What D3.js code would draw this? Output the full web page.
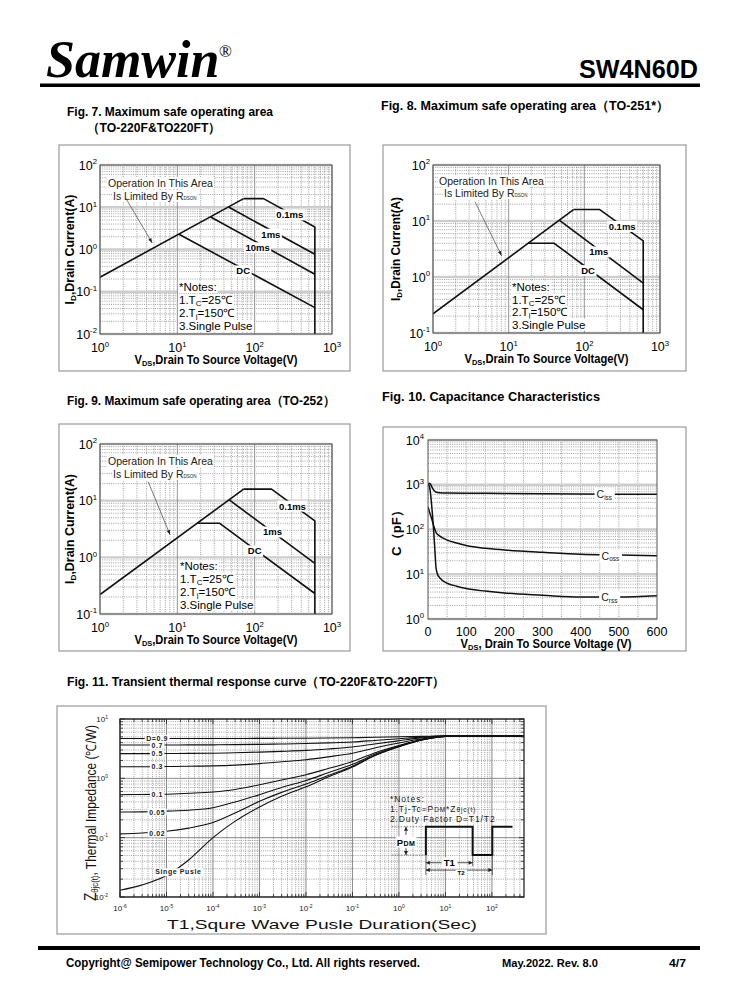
<!DOCTYPE html>
<html><head><meta charset="utf-8">
<script src="https://cdn.jsdelivr.net/npm/d3@7/dist/d3.min.js"></script>
<style>html,body{margin:0;padding:0;background:#fff}svg{display:block}</style>
</head><body>
<svg id="page" width="738" height="1000"></svg>
<script>
// ================= DATA =================
// Fig 7 (TO-220F) safe operating area, [VDS (V), ID (A)]
const fig7Rdson = [[1, 0.22], [72, 16]];
const fig7Ms01 = [[72, 16], [130, 16], [600, 3.4], [600, 0.01]];
const fig7Ms1 = [[46, 10.1], [600, 0.77]];
const fig7Ms10 = [[27, 5.9], [600, 0.26]];
const fig7DC = [[10.5, 2.3], [600, 0.042]];
const fig7Labels = [["0.1ms", 285, 6.6], ["1ms", 162, 2.3], ["10ms", 109, 1.1], ["DC", 71, 0.31]];

// Fig 8 (TO-251)
const fig8Rdson = [[1, 0.22], [72, 16]];
const fig8Ms01 = [[72, 16], [160, 16], [600, 4.4], [600, 0.1]];
const fig8Ms1 = [[47, 10.3], [600, 0.78]];
const fig8DC = [[18, 4], [40, 4], [600, 0.26]];
const fig8Labels = [["0.1ms", 316, 8], ["1ms", 155, 2.8], ["DC", 112, 1.3]];

// Fig 9 (TO-252)
const fig9Rdson = [[1, 0.22], [72, 16]];
const fig9Ms01 = [[72, 16], [165, 16], [600, 4.4], [600, 0.1]];
const fig9Ms1 = [[47, 10.3], [600, 0.78]];
const fig9DC = [[18, 4], [35, 4], [600, 0.23]];
const fig9Labels = [["0.1ms", 308, 8], ["1ms", 170, 2.8], ["DC", 100, 1.3]];

const soaXExp = [0, 1, 2, 3];
const fig7YExp = [-2, -1, 0, 1, 2];
const fig89YExp = [-1, 0, 1, 2];

// Fig 10 capacitance, VDS (V) -> C (pF)
const cissV = [0.5, 3, 6, 10, 15, 20, 30, 50, 100, 200, 300, 400, 500, 600];
const cissC = [980, 1080, 1050, 900, 760, 690, 660, 650, 645, 640, 632, 622, 615, 610];
const cossV = [0, 5, 10, 15, 20, 25, 30, 40, 50, 75, 100, 150, 200, 300, 400, 500, 600];
const cossC = [320, 230, 170, 120, 90, 78, 72, 64, 58, 50, 44, 38, 35, 31, 28, 27, 26];
const crssV = [1, 3, 6, 9, 12, 15, 18, 21, 25, 30, 40, 50, 75, 100, 150, 200, 300, 400, 500, 600];
const crssC = [1000, 950, 700, 400, 200, 90, 35, 14, 10, 8.5, 7, 6.3, 5.4, 4.8, 4.2, 3.8, 3.4, 3.1, 3.1, 3.3];
const capXTicks = [0, 100, 200, 300, 400, 500, 600];
const capYExp = [0, 1, 2, 3, 4];
const capLabels = [["C", "iss", 462, 600], ["C", "oss", 478, 25], ["C", "rss", 475, 3.0]];

// Fig 11 transient thermal impedance, t (s) -> Z (C/W)
const thT = [1e-6, 3e-6, 1e-5, 3e-5, 1e-4, 3e-4, 1e-3, 3e-3, 1e-2, 3e-2, 1e-1, 3e-1, 1, 3, 10, 30, 490];
const thD09 = [4.68, 4.68, 4.68, 4.69, 4.69, 4.7, 4.71, 4.73, 4.75, 4.78, 4.84, 4.92, 5.02, 5.1, 5.19, 5.2, 5.2];
const thD07 = [3.64, 3.64, 3.65, 3.66, 3.67, 3.7, 3.74, 3.79, 3.86, 3.96, 4.1, 4.35, 4.66, 4.95, 5.17, 5.2, 5.2];
const thD05 = [2.61, 2.61, 2.62, 2.63, 2.65, 2.7, 2.77, 2.85, 2.96, 3.13, 3.38, 3.8, 4.3, 4.8, 5.16, 5.2, 5.2];
const thD03 = [1.57, 1.57, 1.58, 1.6, 1.62, 1.67, 1.77, 1.9, 2.06, 2.3, 2.65, 3.25, 3.94, 4.6, 5.14, 5.2, 5.2];
const thD01 = [0.53, 0.535, 0.54, 0.56, 0.59, 0.65, 0.78, 0.94, 1.15, 1.46, 1.92, 2.68, 3.58, 4.48, 5.12, 5.2, 5.2];
const thD005 = [0.27, 0.272, 0.28, 0.29, 0.32, 0.4, 0.53, 0.7, 0.92, 1.24, 1.72, 2.54, 3.5, 4.45, 5.1, 5.2, 5.2];
const thD002 = [0.116, 0.12, 0.128, 0.145, 0.18, 0.26, 0.41, 0.58, 0.8, 1.12, 1.6, 2.45, 3.45, 4.42, 5.1, 5.2, 5.2];
const thSingle = [0.013, 0.016, 0.023, 0.042, 0.1, 0.19, 0.33, 0.5, 0.72, 1.05, 1.55, 2.4, 3.4, 4.4, 5.1, 5.2, 5.2];
const thLabels = ["D=0.9", "0.7", "0.5", "0.3", "0.1", "0.05", "0.02"];
const thXExp = [-6, -5, -4, -3, -2, -1, 0, 1, 2];
const thYExp = [-2, -1, 0, 1];
// pulse diagram (t, Z)
const pulseT = [3.8, 3.8, 38.5, 38.5, 102, 102, 277];
const pulseZ = [0.051, 0.153, 0.153, 0.051, 0.051, 0.153, 0.153];

// ================= DRAWING =================
const svg = d3.select('#page');
const SANS = "'Liberation Sans', Arial, Helvetica, sans-serif";
const SERIF = "'Liberation Serif', 'Times New Roman', serif";
let clipN = 0;

function txt(parent, x, y, parts, o = {}) {
  const t = parent.append('text').attr('x', x).attr('y', y)
    .attr('font-family', o.family || SANS).attr('font-size', o.size || 12)
    .attr('font-weight', o.weight || 'normal').attr('fill', o.fill || '#000');
  if (o.anchor) t.attr('text-anchor', o.anchor);
  if (o.fstyle) t.attr('font-style', o.fstyle);
  if (o.len) t.attr('textLength', o.len).attr('lengthAdjust', 'spacingAndGlyphs');
  if (o.ls) t.attr('letter-spacing', o.ls);
  if (o.rotate) t.attr('transform', `rotate(${o.rotate},${x},${y})`);
  if (typeof parts === 'string') t.text(parts);
  else parts.forEach(p => {
    const s = t.append('tspan').text(p.t);
    if (p.size) s.attr('font-size', p.size);
    if (p.dy) s.attr('dy', p.dy);
    if (p.weight) s.attr('font-weight', p.weight);
  });
  return t;
}
function bg(t, px = 1.5, py = 0.5) {
  const b = t.node().getBBox();
  d3.select(t.node().parentNode).insert('rect', () => t.node())
    .attr('x', b.x - px).attr('y', b.y - py).attr('width', b.width + 2 * px).attr('height', b.height + 2 * py)
    .attr('fill', '#fff');
}
function pow10(exp, size) {
  return [{ t: '10' }, { t: String(exp), size: size * 0.62, dy: -size * 0.42 }];
}
function logVals(dom) {
  const lo = Math.floor(Math.log10(dom[0]) + 1e-9), hi = Math.ceil(Math.log10(dom[1]) - 1e-9);
  const major = [], minor = [];
  for (let e = lo; e <= hi; e++) {
    const b = Math.pow(10, e);
    if (b >= dom[0] * 0.999 && b <= dom[1] * 1.001) major.push(b);
    for (let m = 2; m <= 9; m++) { const v = m * b; if (v > dom[0] && v < dom[1] * 0.999) minor.push(v); }
  }
  return { major, minor };
}
function frame(x0, y0, x1, y1) {
  svg.append('rect').attr('x', x0).attr('y', y0).attr('width', x1 - x0).attr('height', y1 - y0)
    .attr('fill', 'none').attr('stroke', '#9a9a9a').attr('stroke-width', 1.2);
}
function vline(g, xs, y0, y1, stroke, w, dash) {
  g.selectAll(null).data(xs).join('line').attr('x1', d => d).attr('x2', d => d).attr('y1', y0).attr('y2', y1)
    .attr('stroke', stroke).attr('stroke-width', w).attr('stroke-dasharray', dash || null);
}
function hline(g, ys, x0, x1, stroke, w, dash) {
  g.selectAll(null).data(ys).join('line').attr('y1', d => d).attr('y2', d => d).attr('x1', x0).attr('x2', x1)
    .attr('stroke', stroke).attr('stroke-width', w).attr('stroke-dasharray', dash || null);
}

function panel(o) {
  const g = svg.append('g');
  const x = o.xLinear ? d3.scaleLinear().domain(o.xDom).range([o.x0, o.x1])
                      : d3.scaleLog().domain(o.xDom).range([o.x0, o.x1]);
  const y = d3.scaleLog().domain(o.yDom).range([o.y1, o.y0]);
  const yv = logVals(o.yDom);
  const xv = o.xLinear ? { major: [], minor: o.xGrid } : logVals(o.xDom);
  const grid = g.append('g');
  const dotC = '#8a8a8a';
  vline(grid, xv.minor.map(x), o.y0, o.y1, dotC, 0.8, '1,1.2');
  hline(grid, yv.minor.map(y), o.x0, o.x1, dotC, 0.8, '1,1.2');
  if (o.thermal) {
    vline(grid, xv.major.map(x), o.y0, o.y1, '#7c7c7c', 0.9);
    hline(grid, yv.major.map(y), o.x0, o.x1, '#7c7c7c', 0.9);
  } else {
    hline(grid, yv.major.map(y), o.x0, o.x1, '#cdcdcd', 2.4);
    vline(grid, xv.major.map(x), o.y0, o.y1, '#8a8a8a', 0.9);
  }
  const id = 'clip' + (clipN++);
  svg.append('clipPath').attr('id', id).append('rect').attr('x', o.x0).attr('y', o.y0)
    .attr('width', o.x1 - o.x0).attr('height', o.y1 - o.y0);
  const plot = g.append('g').attr('clip-path', `url(#${id})`);
  const ann = g.append('g');
  g.append('rect').attr('x', o.x0).attr('y', o.y0).attr('width', o.x1 - o.x0).attr('height', o.y1 - o.y0)
    .attr('fill', 'none').attr('stroke', o.thermal ? '#222' : '#555').attr('stroke-width', o.thermal ? 1.3 : 1);
  return { g, x, y, plot, ann, o };
}

function curve(P, pts, w, curveType) {
  const l = d3.line().x(d => P.x(d[0])).y(d => P.y(d[1]));
  if (curveType) l.curve(curveType);
  P.plot.append('path').attr('d', l(pts)).attr('fill', 'none').attr('stroke', '#111')
    .attr('stroke-width', w || 1.6).attr('stroke-linejoin', 'round');
}

function soaAxes(P, yExp, xTitleLen, yTitleLen, yTitleX) {
  const o = P.o;
  soaXExp.forEach(e => txt(P.g, P.x(Math.pow(10, e)), o.y1 + 18, pow10(e, 12.5), { size: 12.5, anchor: 'middle' }));
  yExp.forEach(e => txt(P.g, o.x0 - 3, P.y(Math.pow(10, e)) + 4.5, pow10(e, 12.5), { size: 12.5, anchor: 'end' }));
  txt(P.g, (o.x0 + o.x1) / 2, o.y1 + 30, [{ t: 'V' }, { t: 'DS', size: 8, dy: 2 }, { t: ',Drain To Source Voltage(V)', dy: -2 }],
    { size: 12, weight: 'bold', anchor: 'middle', len: xTitleLen });
  const cy = (o.y0 + o.y1) / 2;
  txt(P.g, yTitleX + 4.5, cy, [{ t: 'I' }, { t: 'D', size: 8, dy: 2 }, { t: ',Drain Current(A)', dy: -2 }],
    { size: 12, weight: 'bold', anchor: 'middle', len: yTitleLen, rotate: -90 });
}
function soaNotes(P, xLeft, yTop, step) {
  const sz = 11.5;
  const lines = [
    [{ t: '*Notes:' }],
    [{ t: '1.T' }, { t: 'C', size: 8, dy: 2 }, { t: '=25℃', dy: -2 }],
    [{ t: '2.T' }, { t: 'j', size: 8, dy: 2 }, { t: '=150℃', dy: -2 }],
    [{ t: '3.Single Pulse' }]
  ];
  lines.forEach((l, i) => bg(txt(P.ann, xLeft, yTop + i * step, l, { size: sz }), 1, 0));
}
function soaRdsonNote(P, xl, y1, y2, a0, a1) {
  bg(txt(P.ann, xl, y1, 'Operation In This Area', { size: 10.5, fill: '#222' }), 1, 0);
  bg(txt(P.ann, xl + 5, y2, [{ t: 'Is Limited By R' }, { t: 'DSON', size: 4.5, dy: 0 }], { size: 10.5, fill: '#222' }), 1, 0);
  const xa = P.x(a0[0]), ya = P.y(a0[1]), xb = P.x(a1[0]), yb = P.y(a1[1]);
  P.ann.append('line').attr('x1', xa).attr('y1', ya).attr('x2', xb).attr('y2', yb).attr('stroke', '#444').attr('stroke-width', 0.7);
  const ang = Math.atan2(yb - ya, xb - xa), L = 5, s = 0.35;
  P.ann.append('path').attr('d', `M${xb},${yb}L${xb - L * Math.cos(ang - s)},${yb - L * Math.sin(ang - s)}L${xb - L * Math.cos(ang + s)},${yb - L * Math.sin(ang + s)}Z`).attr('fill', '#222');
}
function soaLabels(P, labs) {
  labs.forEach(l => bg(txt(P.ann, P.x(l[1]), P.y(l[2]) + 3.5, l[0], { size: 9.5, weight: 'bold', anchor: 'middle' }), 1.5, 0));
}

// ---------- Header ----------
txt(svg, 46, 77, 'Samwin', { family: SERIF, size: 52, weight: 'bold', fstyle: 'italic' });
txt(svg, 219, 57, '®', { family: SERIF, size: 17 });
txt(svg, 698, 78, 'SW4N60D', { size: 26, weight: 'bold', anchor: 'end', len: 119 });
svg.append('rect').attr('x', 40).attr('y', 83.5).attr('width', 660).attr('height', 3.5).attr('fill', '#000');

// ---------- Titles ----------
txt(svg, 67, 116, 'Fig. 7. Maximum safe operating area', { size: 12.5, weight: 'bold', len: 206 });
txt(svg, 87, 131.5, '（TO-220F&TO220FT）', { size: 12.5, weight: 'bold', len: 134 });
txt(svg, 381, 110, 'Fig. 8. Maximum safe operating area（TO-251*）', { size: 12.5, weight: 'bold', len: 288 });
txt(svg, 67, 404.5, 'Fig. 9. Maximum safe operating area（TO-252）', { size: 12.5, weight: 'bold', len: 268 });
txt(svg, 382, 401, 'Fig. 10. Capacitance Characteristics', { size: 12.5, weight: 'bold', len: 218 });
txt(svg, 67, 685.5, 'Fig. 11. Transient thermal response curve（TO-220F&TO-220FT）', { size: 12.5, weight: 'bold', len: 378 });

// ---------- Fig 7 ----------
frame(59, 145, 350, 371);
const P7 = panel({ x0: 100, x1: 332, y0: 165, y1: 334, xDom: [1, 1000], yDom: [0.01, 100] });
[fig7Rdson, fig7Ms01, fig7Ms1, fig7Ms10, fig7DC].forEach(c => curve(P7, c));
soaAxes(P7, fig7YExp, 163, 110, 69);
soaRdsonNote(P7, 108, 187, 200, [2.11, 17.5], [4.73, 1.43]);
soaLabels(P7, fig7Labels);
soaNotes(P7, 179, 291, 13);

// ---------- Fig 8 ----------
frame(383, 145, 686, 371);
const P8 = panel({ x0: 433, x1: 660, y0: 165, y1: 333, xDom: [1, 1000], yDom: [0.1, 100] });
[fig8Rdson, fig8Ms01, fig8Ms1, fig8DC].forEach(c => curve(P8, c));
soaAxes(P8, fig89YExp, 164, 104, 395);
soaRdsonNote(P8, 439, 185, 197, [3.59, 22], [8.07, 2.4]);
soaLabels(P8, fig8Labels);
soaNotes(P8, 512, 291, 12.5);

// ---------- Fig 9 ----------
frame(59, 424, 350, 651);
const P9 = panel({ x0: 100, x1: 332, y0: 444, y1: 614, xDom: [1, 1000], yDom: [0.1, 100] });
[fig9Rdson, fig9Ms01, fig9Ms1, fig9DC].forEach(c => curve(P9, c));
soaAxes(P9, fig89YExp, 163, 110, 69);
soaRdsonNote(P9, 108, 465, 478, [4.2, 21.6], [8.05, 2.5]);
soaLabels(P9, fig9Labels);
soaNotes(P9, 180, 570, 13);

// ---------- Fig 10 ----------
frame(383, 427, 686, 651);
const capGrid = d3.range(50, 600, 50);
const P10 = panel({ x0: 428, x1: 657, y0: 440, y1: 619, xLinear: true, xDom: [0, 600], xGrid: capGrid, yDom: [1, 10000] });
curve(P10, cissV.map((v, i) => [v, cissC[i]]), 1.5, d3.curveMonotoneX);
curve(P10, cossV.map((v, i) => [v, cossC[i]]), 1.5, d3.curveMonotoneX);
curve(P10, crssV.map((v, i) => [v, crssC[i]]), 1.5, d3.curveMonotoneX);
capXTicks.forEach(v => txt(P10.g, P10.x(v), 636, String(v), { size: 12.5, anchor: 'middle' }));
capYExp.forEach(e => txt(P10.g, 424, P10.y(Math.pow(10, e)) + 4.5, pow10(e, 12.5), { size: 12.5, anchor: 'end' }));
txt(P10.g, 546, 648, [{ t: 'V' }, { t: 'DS', size: 8, dy: 2 }, { t: ', Drain To Source Voltage (V)', dy: -2 }],
  { size: 12, weight: 'bold', anchor: 'middle', len: 171 });
txt(P10.g, 396 + 4.5, 530, 'C（pF）', { size: 13, weight: 'bold', anchor: 'middle', rotate: -90, len: 52 });
capLabels.forEach(l => bg(txt(P10.ann, P10.x(l[2]), P10.y(l[3]) + 3.5, [{ t: l[0] }, { t: l[1], size: 6.5, dy: 1.5 }],
  { size: 10.5, fill: '#222', anchor: 'middle' }), 2, 0.5));

// ---------- Fig 11 ----------
frame(57, 706, 546, 934);
const P11 = panel({ x0: 120, x1: 524, y0: 719, y1: 897, xDom: [1e-6, 490], yDom: [0.01, 10], thermal: true });
(function () {
  const o = P11.o, xv = logVals(o.xDom), yv = logVals(o.yDom), tg = P11.g.append('g');
  const ticks = (vals, len, horiz) => vals.forEach(v => {
    if (horiz) {
      const xx = P11.x(v);
      tg.append('line').attr('x1', xx).attr('x2', xx).attr('y1', o.y1).attr('y2', o.y1 - len).attr('stroke', '#222').attr('stroke-width', 0.8);
      tg.append('line').attr('x1', xx).attr('x2', xx).attr('y1', o.y0).attr('y2', o.y0 + len).attr('stroke', '#222').attr('stroke-width', 0.8);
    } else {
      const yy = P11.y(v);
      tg.append('line').attr('y1', yy).attr('y2', yy).attr('x1', o.x0).attr('x2', o.x0 + len).attr('stroke', '#222').attr('stroke-width', 0.8);
      tg.append('line').attr('y1', yy).attr('y2', yy).attr('x1', o.x1).attr('x2', o.x1 - len).attr('stroke', '#222').attr('stroke-width', 0.8);
    }
  });
  ticks(xv.minor, 3, true); ticks(xv.major, 5, true);
  ticks(yv.minor, 3, false); ticks(yv.major, 5, false);
})();
const thCurves = [thD09, thD07, thD05, thD03, thD01, thD005, thD002, thSingle];
thCurves.forEach(c => curve(P11, thT.map((t, i) => [t, c[i]]), 1.1, d3.curveMonotoneX));
thLabels.forEach((l, i) => bg(txt(P11.ann, P11.x(6.3e-6), P11.y(thCurves[i][0]) + 2.5, l,
  { size: 7, weight: 'bold', anchor: 'middle', ls: 0.6, fill: '#222' }), 1.5, 0));
bg(txt(P11.ann, P11.x(1.8e-5), P11.y(0.0266) + 2.5, 'Singe Pusle', { size: 7, weight: 'bold', anchor: 'middle', ls: 0.6, fill: '#222' }), 1.5, 0);
thXExp.forEach(e => txt(P11.g, P11.x(Math.pow(10, e)), 911, pow10(e, 8), { size: 8, anchor: 'middle', fill: '#222' }));
thYExp.forEach(e => txt(P11.g, 108, P11.y(Math.pow(10, e)) + 3, pow10(e, 8), { size: 8, anchor: 'end', fill: '#222' }));
txt(P11.g, (120 + 524) / 2, 929, 'T1,Squre Wave Pusle Duration(Sec)', { size: 13.5, anchor: 'middle', len: 310, fill: '#111' });
txt(P11.g, 91 + 5, 813, [{ t: 'Z', size: 16 }, { t: 'θjc(t)', size: 9, dy: 2 }, { t: ', Thermal Impedance (℃/W)', dy: -2 }],
  { size: 14, anchor: 'middle', rotate: -90, len: 176, fill: '#111' });
(function () {
  const A = P11.ann, X = P11.x, Y = P11.y;
  const nx = X(0.64);
  txt(A, nx, Y(0.448) + 3, '*Notes:', { size: 8.5, ls: 1, fill: '#222' });
  txt(A, nx, Y(0.305) + 3, [{ t: '1.Tj-Tc=P' }, { t: 'DM', size: 6.5 }, { t: '*Z' }, { t: 'θjc(t)', size: 6.5 }], { size: 8.5, ls: 0.9, fill: '#222' });
  txt(A, nx, Y(0.206) + 3, '2.Duty Factor D=T1/T2', { size: 8.5, ls: 0.9, fill: '#222' });
  const l = d3.line().x(d => X(d[0])).y(d => Y(d[1]));
  [[0.153], [0.051]].forEach(z => A.append('line').attr('x1', X(0.7)).attr('x2', X(3.8)).attr('y1', Y(z[0])).attr('y2', Y(z[0]))
    .attr('stroke', '#333').attr('stroke-width', 0.6).attr('stroke-dasharray', '1.5,1.5'));
  [[3.8, 0.0234], [38.5, 0.033], [102, 0.0234]].forEach(p => A.append('line').attr('x1', X(p[0])).attr('x2', X(p[0]))
    .attr('y1', Y(0.051)).attr('y2', Y(p[1])).attr('stroke', '#333').attr('stroke-width', 0.7));
  A.append('path').attr('d', l(pulseT.map((t, i) => [t, pulseZ[i]]))).attr('fill', 'none').attr('stroke', '#111').attr('stroke-width', 2);
  const ax = X(1.42);
  const arrowV = (yFrom, yTo) => {
    A.append('line').attr('x1', ax).attr('x2', ax).attr('y1', yFrom).attr('y2', yTo).attr('stroke', '#222').attr('stroke-width', 0.8);
    const d = yTo > yFrom ? 1 : -1;
    A.append('path').attr('d', `M${ax},${yTo}L${ax - 2},${yTo - d * 4}L${ax + 2},${yTo - d * 4}Z`).attr('fill', '#222');
  };
  arrowV(Y(0.111), Y(0.153)); arrowV(Y(0.0668), Y(0.051));
  bg(txt(A, ax, Y(0.0843) + 3.5, [{ t: 'P' }, { t: 'DM', size: 7 }], { size: 9.5, weight: 'bold', anchor: 'middle', ls: 0.5 }), 1, 0);
  const arrowH = (x0, x1, yy) => {
    A.append('line').attr('x1', x0).attr('x2', x1).attr('y1', yy).attr('y2', yy).attr('stroke', '#222').attr('stroke-width', 0.8);
    A.append('path').attr('d', `M${x0},${yy}L${x0 + 4},${yy - 2}L${x0 + 4},${yy + 2}Z`).attr('fill', '#222');
    A.append('path').attr('d', `M${x1},${yy}L${x1 - 4},${yy - 2}L${x1 - 4},${yy + 2}Z`).attr('fill', '#222');
  };
  arrowH(X(3.8), X(38.5), Y(0.0378));
  arrowH(X(3.8), X(102), Y(0.0284));
  bg(txt(A, (X(3.8) + X(38.5)) / 2, Y(0.0378) + 3.5, 'T1', { size: 9.5, weight: 'bold', anchor: 'middle' }), 2, 0);
  bg(txt(A, (X(3.8) + X(102)) / 2 + 2, Y(0.0284) + 4.5, 'T2', { size: 6, weight: 'bold', anchor: 'middle' }), 2, 0);
})();

// ---------- Footer ----------
svg.append('rect').attr('x', 38).attr('y', 946).attr('width', 662).attr('height', 4).attr('fill', '#000');
txt(svg, 66, 967, 'Copyright@ Semipower Technology Co., Ltd. All rights reserved.', { size: 12, weight: 'bold', len: 354 });
txt(svg, 502, 967, 'May.2022. Rev. 8.0', { size: 11.5, weight: 'bold', len: 96 });
txt(svg, 669, 967, '4/7', { size: 11.5, weight: 'bold', len: 17 });
</script>
</body></html>
